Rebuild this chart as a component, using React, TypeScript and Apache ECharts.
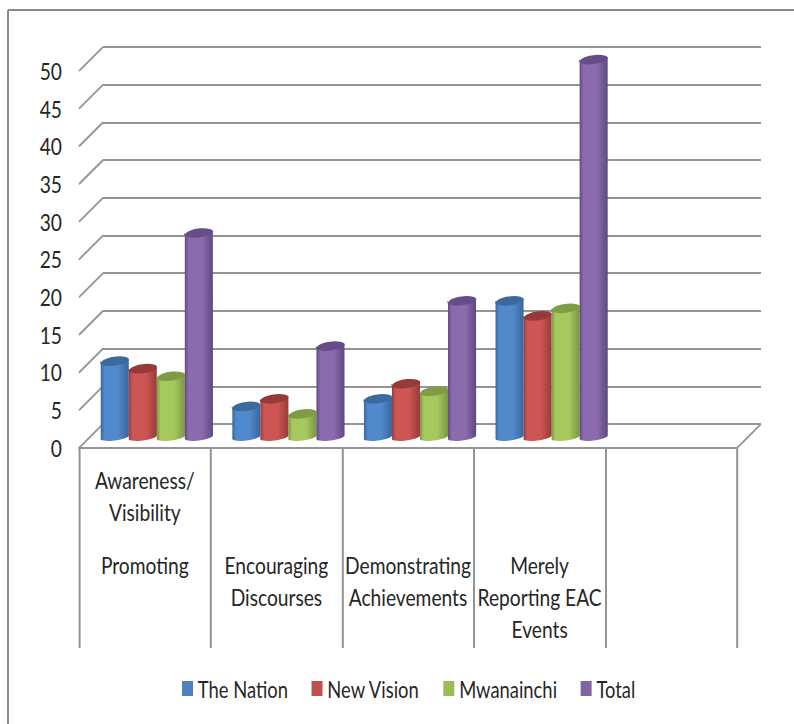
import React, { useEffect, useRef } from "react";
import * as echarts from "echarts";

const upperLabels = ["Awareness/\nVisibility", "", "", "", ""];
const lowerLabels = [
  "Promoting",
  "Encouraging\nDiscourses",
  "Demonstrating\nAchievements",
  "Merely\nReporting EAC\nEvents",
  "",
];
const theNation = [10, 4, 5, 18];
const newVision = [9, 5, 7, 16];
const mwanainchi = [8, 3, 6, 17];
const total = [27, 12, 18, 50];
const yTicks = [0, 5, 10, 15, 20, 25, 30, 35, 40, 45, 50];

const FONT = "Lato, sans-serif";
const TEXT = "#262626";
const LINE = "#949494";
const FONT_SIZE = 24;

// The whole chart is laid out wider and squeezed with a CSS transform, which gives
// its lettering the tall, condensed proportions; px() converts to layout units.
const SQUEEZE = 0.8;
const px = (x: number) => x / SQUEEZE;

// Depth of the oblique floor, in screen pixels.
const DEPTH = 24;

const cylinderSeries = [
  { name: "The Nation", values: theNation, swatch: "#4f81bd", edge: "#3a659b", mid: "#5089cc", top: "#3c6a9e" },
  { name: "New Vision", values: newVision, swatch: "#c0504d", edge: "#953c3a", mid: "#cd5553", top: "#953a38" },
  { name: "Mwanainchi", values: mwanainchi, swatch: "#9bbb59", edge: "#7a9645", mid: "#a5c95c", top: "#7f9c43" },
  { name: "Total", values: total, swatch: "#8064a2", edge: "#5f4880", mid: "#8a6bae", top: "#664c88" },
];

function plane(offset: number) {
  return { left: px(79 + offset), top: 71 - offset, width: px(658), height: 377 };
}

function hiddenCategory(gridIndex: number) {
  return { type: "category", gridIndex, data: lowerLabels, show: false };
}

function hiddenValue(gridIndex: number, showLines: boolean) {
  return {
    type: "value",
    gridIndex,
    min: 0,
    max: 50,
    interval: 5,
    axisLine: { show: false },
    axisTick: { show: false },
    axisLabel: { show: false },
    splitLine: { show: showLines, lineStyle: { color: LINE, width: 2 } },
  };
}

function cylinderRenderer(seriesIndex: number, mid: string, edge: string, topColor: string) {
  return (_params: any, api: any) => {
    const category = api.value(0);
    const value = api.value(1);
    const band = api.size([1, 0])[0];
    const width = band * 0.213;
    const [cx0, yTop] = api.coord([category, value]);
    const [, yBase] = api.coord([category, 0]);
    const cx = cx0 + (seriesIndex - 1.5) * width;
    const rx = width / 2;
    const ry = 4.8;
    const ryBase = 3.6;
    const rise = 2.2; // the ellipses lean up to the right
    const xl = cx - rx;
    const xr = cx + rx;
    const body =
      `M ${xl} ${yTop + rise} L ${xl} ${yBase + rise} ` +
      `A ${rx} ${ryBase} -6 0 0 ${xr} ${yBase - rise} ` +
      `L ${xr} ${yTop - rise} ` +
      `A ${rx} ${ry} -6 0 1 ${xl} ${yTop + rise} Z`;
    const cap =
      `M ${xl} ${yTop + rise} ` +
      `A ${rx} ${ry} -6 0 1 ${xr} ${yTop - rise} ` +
      `A ${rx} ${ry} -6 0 1 ${xl} ${yTop + rise} Z`;
    return {
      type: "group",
      children: [
        {
          type: "path",
          shape: { pathData: body },
          style: {
            fill: new echarts.graphic.LinearGradient(0, 0, 1, 0, [
              { offset: 0, color: edge },
              { offset: 0.14, color: mid },
              { offset: 0.62, color: mid },
              { offset: 1, color: edge },
            ]),
          },
        },
        { type: "path", shape: { pathData: cap }, style: { fill: topColor } },
      ],
    };
  };
}

export default function App() {
  const ref = useRef<HTMLDivElement>(null);

  useEffect(() => {
    const chart = echarts.init(ref.current!, null, { renderer: "svg" });
    const categoryLabel = {
      interval: 0,
      fontFamily: FONT,
      fontSize: FONT_SIZE,
      lineHeight: 32,
      color: TEXT,
      verticalAlign: "top",
    };
    chart.setOption({
      animation: false,
      backgroundColor: "#ffffff",
      textStyle: { fontFamily: FONT },
      // 0: front plane with the labels, 1: back wall with the gridlines, 2: cylinders at mid depth
      grid: [plane(0), plane(DEPTH), plane(DEPTH / 2)],
      xAxis: [
        {
          type: "category",
          gridIndex: 0,
          position: "bottom",
          data: lowerLabels,
          axisLine: { show: true, lineStyle: { color: LINE, width: 2 } },
          axisTick: { show: true, length: 200, lineStyle: { color: LINE, width: 2 / SQUEEZE } },
          axisLabel: { ...categoryLabel, margin: 101 },
        },
        {
          type: "category",
          gridIndex: 0,
          position: "bottom",
          data: upperLabels,
          axisLine: { show: false },
          axisTick: { show: false },
          axisLabel: { ...categoryLabel, margin: 16 },
        },
        hiddenCategory(1),
        hiddenCategory(2),
      ],
      yAxis: [
        {
          type: "value",
          gridIndex: 0,
          min: 0,
          max: 50,
          interval: 5,
          axisLine: { show: false },
          axisTick: { show: false },
          splitLine: { show: false },
          axisLabel: { margin: px(17), fontFamily: FONT, fontSize: FONT_SIZE, color: TEXT },
        },
        hiddenValue(1, true),
        hiddenValue(2, false),
      ],
      legend: {
        data: cylinderSeries.map((s) => s.name),
        left: px(182),
        top: 677,
        padding: 0,
        itemWidth: px(11),
        itemHeight: 15,
        itemGap: px(23.5),
        icon: "rect",
        textStyle: { fontFamily: FONT, fontSize: 23, color: TEXT, padding: [0, 0, 0, 1] },
      },
      series: [
        {
          // oblique lines joining the front axis to the back wall
          type: "custom",
          silent: true,
          xAxisIndex: 0,
          yAxisIndex: 0,
          data: yTicks.map((t) => [0, t]),
          encode: { x: 0, y: 1 },
          renderItem: (_p: any, api: any) => {
            const band = api.size([1, 0])[0];
            const [cx, y] = api.coord([api.value(0), api.value(1)]);
            const x = cx - band / 2;
            const left = {
              type: "line",
              shape: { x1: x, y1: y, x2: x + px(DEPTH), y2: y - DEPTH },
              style: { stroke: LINE, lineWidth: 2 },
            };
            if (api.value(1) !== 0) return left;
            return {
              type: "group",
              children: [
                left,
                {
                  type: "line",
                  shape: { x1: x + band * 5, y1: y, x2: x + band * 5 + px(DEPTH), y2: y - DEPTH },
                  style: { stroke: LINE, lineWidth: 2 },
                },
              ],
            };
          },
        },
        ...cylinderSeries.map((s, i) => ({
          type: "custom",
          name: s.name,
          xAxisIndex: 3,
          yAxisIndex: 2,
          itemStyle: { color: s.swatch },
          data: s.values.map((v, c) => [c, v]),
          encode: { x: 0, y: 1 },
          renderItem: cylinderRenderer(i, s.mid, s.edge, s.top),
        })),
      ],
      graphic: [
        // chart area border, open on the right and at the bottom
        { type: "line", shape: { x1: px(8), y1: 10, x2: px(794), y2: 10 }, style: { stroke: "#8a8a8a", lineWidth: 2 } },
        { type: "line", shape: { x1: px(8), y1: 10, x2: px(8), y2: 724 }, style: { stroke: "#8a8a8a", lineWidth: 2 / SQUEEZE } },
      ],
    });
    return () => chart.dispose();
  }, []);

  return (
    <div style={{ position: "fixed", left: 0, top: 0, width: 794, height: 724, overflow: "hidden" }}>
      <div
        ref={ref}
        style={{ width: px(794), height: 724, transform: `scaleX(${SQUEEZE})`, transformOrigin: "0 0" }}
      />
    </div>
  );
}
